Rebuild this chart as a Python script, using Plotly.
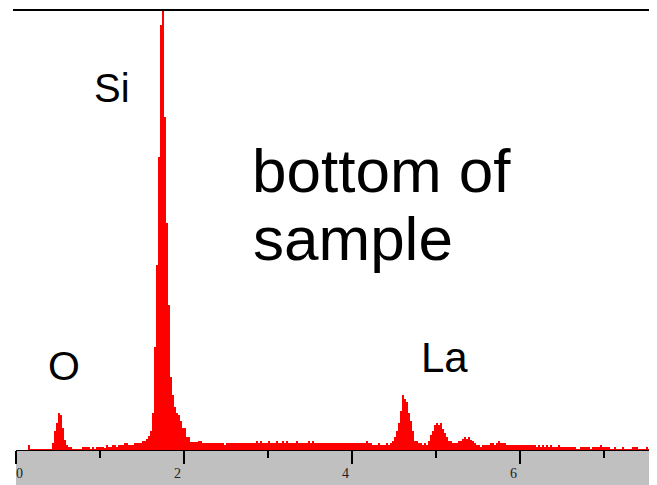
import plotly.graph_objects as go

# ---- data ----
channel_kev = 1 / 42          # energy width of one channel (keV)
counts = [
    0, 0, 0, 0, 0, 0, 5, 1, 1, 1, 1, 1, 1, 1, 1, 1, 1, 1,
    7, 19, 27, 37, 35, 22, 10, 5, 3, 3,
    1, 1, 1, 1, 1, 3, 3, 3, 3, 1, 3, 1, 3, 3, 3, 3,
    2, 5, 3, 3, 5, 5, 3, 5, 5, 5, 7, 7, 5, 5, 5, 7, 7, 7, 7, 9, 9, 11, 14, 19, 37,
    103, 185, 293, 425, 440, 333, 227, 145, 73, 55, 43, 37, 35, 29,
    22, 22, 13, 13, 8, 8, 8, 8, 9, 9,
    7, 7, 7, 7, 7, 7, 7, 7, 7, 7, 7, 5,
    7, 7, 7, 7, 7, 7, 7, 7, 7, 7, 7, 7, 7, 7, 7,
    9, 7, 9, 7, 7, 7, 9, 7, 7, 7, 9, 7, 7, 9, 7, 9, 7, 7, 7, 7,
    9, 7, 7, 7, 7, 7, 9, 7, 9, 7, 7, 7, 7, 7, 7, 7, 7,
    7, 7, 7, 7, 7, 7, 7, 7, 7, 7, 7, 7, 7, 7, 7, 7, 7, 7, 9, 7,
    7, 5, 5, 5, 7, 5, 5, 5, 7, 5, 7, 9, 13, 19, 27, 39, 55, 51, 48, 37,
    29, 19, 9, 9, 7, 7, 5, 7, 5, 9, 15, 19, 25, 27, 25, 27, 21, 17, 13, 9,
    9, 7, 7, 7, 9, 9, 11, 13, 11, 13, 10, 9, 7, 5, 5, 3, 5, 5, 5, 5,
    7, 7, 5, 7, 9, 7, 7, 7,
    5, 5, 5, 5, 5, 5, 5, 5, 5, 5, 5, 5, 5, 5, 5,
    3, 5, 3, 5, 3, 5, 3, 5, 3, 3, 3, 5, 3, 3, 3, 3, 3, 3, 3, 3,
    1, 1, 3, 3, 3, 3, 3, 1, 3, 3, 3, 3, 5, 3, 3, 3, 3, 1, 1, 3,
    1, 1, 1, 3, 1, 1, 1, 1, 3, 3, 3, 1, 1, 1, 1, 3, 1, 3, 1, 3, 1,
]
energies = [(i + 0.5) * channel_kev for i in range(len(counts))]

tick_vals = [0, 2, 4, 6]
tick_text = ["0", "2", "4", "6"]
minor_tick_step = 1

labels = ["Si", "bottom of", "sample", "O", "La"]

# ---- layout geometry (page body adds an 8 px offset) ----
OFF = 8
W, H = 657 - OFF, 485 - OFF
L, R, T, B = 16 - OFF, 0, 10 - OFF, 35
PW, PH = W - L - R, H - T - B
x_max = PW / 84.0


def px(xpix):      # screen pixel -> paper x
    return (xpix - OFF - L) / PW


def py(ypix):      # screen pixel -> paper y
    return (T + PH - (ypix - OFF)) / PH


fig = go.Figure()
fig.add_trace(go.Bar(
    x=energies, y=counts, width=channel_kev,
    marker=dict(color="#ff0000", line=dict(width=0)),
    hoverinfo="skip",
))

fig.update_layout(
    width=W, height=H,
    margin=dict(l=L, r=R, t=T, b=B, pad=0),
    paper_bgcolor="white", plot_bgcolor="white",
    showlegend=False, bargap=0,
    xaxis=dict(
        range=[0, x_max], showgrid=False, zeroline=False,
        showline=True, linecolor="black", linewidth=1,
        ticks="outside", ticklen=13, tickwidth=2, tickcolor="black",
        tickvals=tick_vals, showticklabels=False,
        minor=dict(dtick=minor_tick_step, tick0=0, ticks="outside",
                   ticklen=7, tickwidth=2, tickcolor="black"),
        layer="below traces", fixedrange=True,
    ),
    yaxis=dict(range=[0, 440], visible=False, fixedrange=True),
)

# grey band beneath the axis
fig.add_shape(type="rect", xref="paper", yref="paper",
              x0=0, x1=1, y0=-B / PH, y1=0,
              fillcolor="#c0c0c0", line=dict(width=0), layer="below")
# top frame line
fig.add_shape(type="line", xref="paper", yref="paper",
              x0=-3 / PW, x1=1, y0=1, y1=1,
              line=dict(color="black", width=2), layer="above")

# tick labels
label_shift = {0: 3}
for v, t in zip(tick_vals, tick_text):
    fig.add_annotation(x=v, y=py(474), xref="x", yref="paper", text=t,
                       showarrow=False, xanchor="center", yanchor="middle",
                       xshift=label_shift.get(v, -7),
                       font=dict(family="Liberation Serif", size=14, color="#222"))

# element / caption labels (left edge px, centre y px, font size)
placements = [(92, 87.8, 40), (250, 170.5, 62), (251, 238.5, 62),
              (46, 365.8, 41), (419, 357.4, 42)]
for text, (xl, yc, fs) in zip(labels, placements):
    fig.add_annotation(x=px(xl), y=py(yc), xref="paper", yref="paper",
                       text=text, showarrow=False,
                       xanchor="left", yanchor="middle",
                       font=dict(family="Liberation Sans", size=fs, color="black"))

fig.write_html("out.html")
